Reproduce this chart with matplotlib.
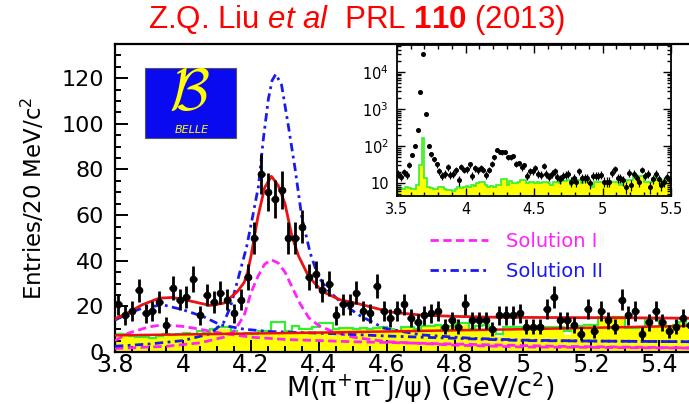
import numpy as np
import matplotlib.pyplot as plt
from matplotlib.patches import Rectangle
from matplotlib.lines import Line2D
from matplotlib.ticker import MultipleLocator, FixedLocator, FixedFormatter, LogLocator, NullFormatter, FormatStrFormatter

plt.rcParams['font.family'] = ['DejaVu Sans']
plt.rcParams['mathtext.fontset'] = 'dejavusans'
plt.rcParams['mathtext.rm'] = 'Liberation Sans'
plt.rcParams['mathtext.it'] = 'Liberation Sans:italic'
plt.rcParams['mathtext.bf'] = 'Liberation Sans:bold'

# M(pi+ pi- J/psi) spectrum, 20 MeV bins from 3.8 to 5.5 GeV
counts = [21, 16, 18, 27, 17, 18, 22, 12, 28, 23, 24, 32, 16, 25, 22, 26,
          23, 17, 23, 33, 50, 78, 70, 67, 71, 50, 50, 55, 33, 34, 27, 30, 16,
          21, 21, 26, 18, 17, 29, 18, 15, 18, 21, 15, 13, 16, 17, 18, 11,
          14, 11, 21, 14, 14, 14, 10, 16, 16, 16, 17, 11, 11, 11, 19, 24, 14,
          14, 12, 8, 19, 9, 18, 14, 11, 23, 16, 18, 8, 13, 18, 13, 9, 11, 15, 12]
# extra bins 3.5-3.8 GeV shown only in the log-scale inset (psi(2S) region)
counts_low = [18, 15, 20, 17, 31, 59, 98, 270, 2900, 29500, 725, 103, 60, 45, 32]

# sideband background histograms
green = [8, 8, 7, 6.5, 6.5, 6, 7, 8, 7.5, 8, 8.5, 8, 9, 8.5, 10, 11,
         11, 9, 8, 8.5, 8, 9, 9, 13, 13, 9, 11.5, 10, 10, 11, 12.5, 12.5, 10,
         10.5, 10.5, 10, 10.5, 10, 10.5, 11, 10, 9, 11, 11, 10, 11.5, 11.5, 12, 9,
         11.5, 12.5, 12.5, 10, 11.5, 12, 10, 8, 11, 11, 11, 11, 11, 11.5, 11, 11, 11,
         9, 11.5, 11.5, 12, 12, 15.5, 15.5, 15.5, 15.5, 10.5, 10.5, 11, 14, 14.5, 12, 11, 12, 13, 12]
yellow = [8, 8, 6.5, 6, 6, 6, 7, 7.5, 7.5, 8, 8, 8, 8.5, 8.5, 9, 10,
          10, 9, 8, 8, 8, 8.5, 8.5, 8, 8, 9, 8.5, 9, 9, 9, 9, 9, 9.5,
          10, 10, 10, 10, 10, 10, 10.5, 10, 9, 10.5, 10.5, 10, 11, 11, 11.5, 9,
          11, 12, 12, 10, 9, 9.5, 9.5, 6.5, 11, 11, 11, 11, 11, 11, 11, 11, 11,
          7.5, 11, 11, 12, 12, 15, 15, 15, 15, 10.5, 10.5, 11, 12, 12, 12, 11, 12, 12.5, 12]
green_low = [7, 7.5, 7, 8, 7.5, 7, 7, 9, 30, 160, 14, 8, 7.5, 7, 7]

# fit curves (x in GeV, y in entries / 20 MeV)
fit_x = [3.80, 3.84, 3.88, 3.93, 3.97, 4.02, 4.08, 4.12, 4.16, 4.18, 4.19, 4.20, 4.22, 4.24,
         4.26, 4.28, 4.30, 4.32, 4.34, 4.37, 4.41, 4.46, 4.52, 4.61, 4.70, 4.80, 4.93, 5.10, 5.30, 5.50]
fit_y = [14.5, 17.4, 20.7, 23.6, 23.9, 22.4, 20.4, 21.4, 26.5, 30.5, 35, 42, 59, 72,
         77, 73, 65, 51, 42, 33, 26.5, 23, 21, 17.5, 16.2, 15.6, 15.2, 15.1, 15.0, 14.8]
bkg_x = [3.80, 4.40, 5.00, 5.50]
bkg_y = [7.3, 8.5, 10.0, 11.5]

# Solution I components
sol1_peak_x = [3.80, 3.95, 4.05, 4.12, 4.15, 4.18, 4.20, 4.22, 4.24, 4.26, 4.28, 4.30, 4.32,
               4.345, 4.37, 4.40, 4.44, 4.50, 4.60, 4.80, 5.00, 5.50]
sol1_peak_y = [1.5, 2.5, 4, 6.5, 9, 16, 26, 33, 38.5, 40.4, 39, 35, 28.7,
               21, 15, 11.5, 9, 6.5, 4.5, 3, 2.2, 1.7]
sol1_wide_x = [3.80, 3.84, 3.90, 3.94, 4.00, 4.03, 4.11, 4.20, 4.30, 4.50, 4.80, 5.10, 5.50]
sol1_wide_y = [5, 8.3, 11, 11.9, 11.2, 10.5, 8.3, 6.5, 5.5, 4.5, 3.5, 2.5, 1.8]

# Solution II components
sol2_peak_x = [3.80, 3.90, 4.00, 4.08, 4.12, 4.14, 4.16, 4.187, 4.205, 4.222, 4.236, 4.251,
               4.262, 4.273, 4.29, 4.31, 4.33, 4.349, 4.374, 4.398, 4.427, 4.47, 4.52,
               4.59, 4.70, 4.85, 5.00, 5.20, 5.50]
sol2_peak_y = [2.5, 3.5, 5, 8, 13, 20, 31, 46, 59.5, 72.7, 93, 110.8,
               119, 121.8, 117, 99, 80, 59.5, 43.4, 33, 27, 21, 16,
               10.5, 7.5, 6, 5.2, 4.8, 4.5]
sol2_wide_x = [3.80, 3.84, 3.88, 3.94, 4.00, 4.06, 4.11, 4.18, 4.25, 4.35, 4.45, 4.60, 4.80, 5.00, 5.50]
sol2_wide_y = [14, 17, 19.2, 20.7, 18.5, 15.5, 11.9, 10, 9, 8.5, 8, 7, 6, 5, 4.5]

edges = np.linspace(3.8, 5.5, len(counts) + 1)
centers = 0.5 * (edges[:-1] + edges[1:])
counts = np.array(counts, dtype=float)

RED = '#ee1111'
MAG = '#ff22ff'
BLUE = '#1a1aee'
GREEN = '#33ee33'
YEL = '#ffff00'
DASH1 = (3, 1.6)
DASH2 = (3, 1.6, 1, 1.6)

fig = plt.figure(figsize=(6.89, 4.04), dpi=100)
ax = fig.add_axes([115 / 689, 1 - 352 / 404, 578 / 689, 308 / 404])

ax.stairs(yellow, edges, fill=True, color=YEL, zorder=1)
ax.stairs(green, edges, color=GREEN, lw=1.6, zorder=1.2)

ax.plot(sol1_peak_x, sol1_peak_y, color=MAG, lw=2, dashes=DASH1, zorder=3)
ax.plot(sol1_wide_x, sol1_wide_y, color=MAG, lw=2, dashes=DASH1, zorder=3)
ax.plot(sol2_peak_x, sol2_peak_y, color=BLUE, lw=2, dashes=DASH2, zorder=3)
ax.plot(sol2_wide_x, sol2_wide_y, color=BLUE, lw=2, dashes=DASH2, zorder=3)
ax.plot(bkg_x, bkg_y, color=RED, lw=1.8, zorder=3.5)
ax.plot(fit_x, fit_y, color=RED, lw=2, zorder=3.5)

ax.errorbar(centers, counts, yerr=np.sqrt(counts), xerr=0.01, fmt='o', ms=4.5,
            color='black', elinewidth=2, capsize=0, zorder=5)

ax.set_xlim(3.8, 5.5)
ax.set_ylim(0, 135)
ax.xaxis.set_major_locator(MultipleLocator(0.2))
ax.xaxis.set_minor_locator(MultipleLocator(0.05))
ax.xaxis.set_major_formatter(FormatStrFormatter('%g'))
ax.yaxis.set_major_locator(MultipleLocator(20))
ax.yaxis.set_minor_locator(MultipleLocator(5))
ax.tick_params(which='both', direction='in', width=1.4, top=False, right=False)
ax.tick_params(which='major', length=9)
ax.tick_params(which='minor', length=4.5)
ax.tick_params(axis='x', labelsize=17, pad=1)
ax.tick_params(axis='y', labelsize=16, pad=8)
for s in ax.spines.values():
    s.set_linewidth(1.6)
ax.set_axisbelow(False)

ax.set_xlabel(r'M($\mathrm{\pi^{+}\pi^{-}}$J/$\mathrm{\psi}$) (GeV/c$^{2}$)', fontsize=19.5)
ax.xaxis.set_label_coords(0.528, -0.060)
ax.set_ylabel(r'Entries/20 MeV/c$^{2}$', fontsize=16.5)
ax.yaxis.set_label_coords(-0.118, 0.5)

handles = [Line2D([], [], color=MAG, lw=2, dashes=DASH1),
           Line2D([], [], color=BLUE, lw=2, dashes=DASH2)]
ax.legend(handles, ['Solution I', 'Solution II'], loc='upper left',
          bbox_to_anchor=(430 / 689, 1 - 232 / 404), bbox_transform=fig.transFigure,
          frameon=False, fontsize=14, handlelength=3.0, handletextpad=0.9,
          labelspacing=0.55, borderpad=0, borderaxespad=0, labelcolor=[MAG, BLUE])

# Belle logo
ax.add_patch(Rectangle((0.052, 0.695), 0.157, 0.227, transform=ax.transAxes,
                       facecolor='#0a0af0', edgecolor='#555555', lw=0.8, zorder=4))
ax.text(0.128, 0.84, r'$\mathcal{B}$', transform=ax.transAxes, color=YEL,
        fontsize=42, ha='center', va='center', math_fontfamily='cm', zorder=4.5)
ax.text(0.133, 0.722, 'BELLE', transform=ax.transAxes, color=YEL, fontsize=8,
        style='italic', ha='center', va='center', zorder=4.5)

fig.text(0.517, 0.95, r'Z.Q. Liu $\mathit{et\ al}$  PRL $\mathbf{110}$ (2013)',
         color='#ff0000', fontsize=22.5, ha='center', va='center',
         family='Liberation Sans', math_fontfamily='custom')

# inset: full range on log scale
ins = fig.add_axes([397 / 689, 1 - 196 / 404, 274 / 689, 151 / 404])
edges_in = np.linspace(3.5, 5.5, len(counts_low) + len(counts) + 1)
centers_in = 0.5 * (edges_in[:-1] + edges_in[1:])
counts_in = np.concatenate([counts_low, counts])
green_in = green_low + green
ins.stairs(green_in, edges_in, fill=True, color=YEL, baseline=1, zorder=1)
ins.stairs(green_in, edges_in, color=GREEN, lw=1.2, baseline=None, zorder=1.2)
ins.errorbar(centers_in, counts_in, yerr=np.sqrt(counts_in), fmt='o', ms=2.6,
             color='black', elinewidth=0.9, capsize=0, zorder=5)
ins.set_yscale('log')
ins.set_xlim(3.5, 5.5)
ins.set_ylim(4.5, 53000)
ins.xaxis.set_major_locator(MultipleLocator(0.5))
ins.xaxis.set_minor_locator(MultipleLocator(0.1))
ins.xaxis.set_major_formatter(FormatStrFormatter('%g'))
ins.yaxis.set_major_locator(FixedLocator([10, 100, 1000, 10000]))
ins.yaxis.set_major_formatter(FixedFormatter(['10', r'10$^{2}$', r'10$^{3}$', r'10$^{4}$']))
ins.yaxis.set_minor_locator(LogLocator(base=10, subs=np.arange(2, 10)))
ins.yaxis.set_minor_formatter(NullFormatter())
ins.tick_params(which='both', direction='in', top=True, right=True, width=1.0)
ins.tick_params(which='major', length=6)
ins.tick_params(which='minor', length=3)
ins.tick_params(axis='x', pad=4, labelsize=10.5)
ins.tick_params(axis='y', pad=6, labelsize=10.5)
for s in ins.spines.values():
    s.set_linewidth(1.3)
ins.set_axisbelow(False)

fig.savefig('out.png', dpi=100)
